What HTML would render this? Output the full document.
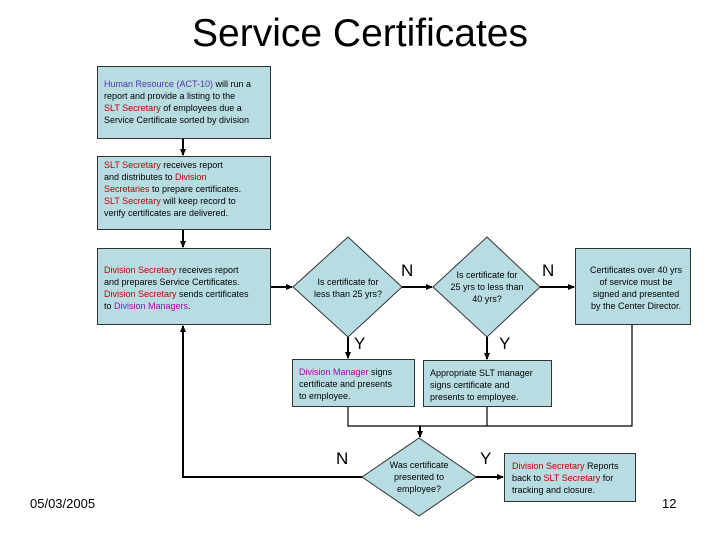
<!DOCTYPE html>
<html><head><style>
body{margin:0;width:720px;height:540px;background:#fff;position:relative;overflow:hidden;font-family:"Liberation Sans",sans-serif;}
.b{position:absolute;background:#b7dde3;border:1px solid #333;box-sizing:border-box;font-size:9px;line-height:12px;color:#000;white-space:nowrap;}
.r{color:#c00000}.p{color:#5533aa}.m{color:#b000b0}
.t{position:absolute;font-size:17px;}
.d{position:absolute;font-size:9px;line-height:12px;text-align:center;white-space:nowrap;}
</style></head><body>
<div style="position:absolute;left:0;width:720px;top:12px;text-align:center;font-size:39px;">Service Certificates</div>
<svg width="720" height="540" style="position:absolute;left:0;top:0">
<defs><marker id="a" markerUnits="userSpaceOnUse" markerWidth="7" markerHeight="7" refX="6" refY="3.5" orient="auto"><path d="M0,0.5L7,3.5L0,6.5z" fill="#000"/></marker></defs>
<g stroke="#000" stroke-width="2" fill="none">
<line x1="183" y1="139" x2="183" y2="155" marker-end="url(#a)"/>
<line x1="183" y1="230" x2="183" y2="247" marker-end="url(#a)"/>
<line x1="271" y1="287" x2="292" y2="287" marker-end="url(#a)"/>
<line x1="402" y1="287" x2="432" y2="287" marker-end="url(#a)"/>
<line x1="540" y1="287" x2="574" y2="287" marker-end="url(#a)"/>
<line x1="348" y1="337" x2="348" y2="358" marker-end="url(#a)"/>
<line x1="487" y1="337" x2="487" y2="359" marker-end="url(#a)"/>
<line x1="476" y1="477" x2="503" y2="477" marker-end="url(#a)"/>
<polyline points="362,477 183,477 183,326" marker-end="url(#a)"/>
</g>
<g stroke="#000" stroke-width="1.2" fill="none">
<polyline points="348,407 348,426 632,426 632,325"/>
<line x1="487" y1="407" x2="487" y2="426"/>
<line x1="420" y1="426" x2="420" y2="437" stroke-width="2" marker-end="url(#a)"/>
</g>
<g fill="#b7dde3" stroke="#333" stroke-width="1">
<polygon points="348,237 402,287 348,337 293,287"/>
<polygon points="487,237 540,287 487,337 433,287"/>
<polygon points="419,438 476,477 419,516 362,477"/>
</g>
</svg>
<div class="b" style="left:97px;top:66px;width:174px;height:73px;padding:11px 0 0 6px"><span class="p">Human Resource (ACT-10)</span> will run a<br>report and provide a listing to the<br><span class="r">SLT Secretary</span> of employees due a<br>Service Certificate sorted by division</div>
<div class="b" style="left:97px;top:156px;width:174px;height:74px;padding:2px 0 0 6px"><span class="r">SLT Secretary</span> receives report<br>and distributes to <span class="r">Division</span><br><span class="r">Secretaries</span> to prepare certificates.<br><span class="r">SLT Secretary</span> will keep record to<br>verify certificates are delivered.</div>
<div class="b" style="left:97px;top:248px;width:174px;height:77px;padding:15px 0 0 6px"><span class="r">Division Secretary</span> receives report<br>and prepares Service Certificates.<br><span class="r">Division Secretary</span> sends certificates<br>to <span class="m">Division Managers</span>.</div>
<div class="d" style="left:300px;top:276px;width:96px">Is certificate for<br>less than 25 yrs?</div>
<div class="d" style="left:440px;top:269px;width:94px">Is certificate for<br>25 yrs to less than<br>40 yrs?</div>
<div class="d" style="left:380px;top:459px;width:78px">Was certificate<br>presented to<br>employee?</div>
<div class="b" style="left:575px;top:248px;width:116px;height:77px;padding:15px 0 0 6px;text-align:center">Certificates over 40 yrs<br>of service must be<br>signed and presented<br>by the Center Director.</div>
<div class="b" style="left:292px;top:359px;width:123px;height:48px;padding:6px 0 0 6px"><span class="m">Division Manager</span> signs<br>certificate and presents<br>to employee.</div>
<div class="b" style="left:423px;top:360px;width:129px;height:47px;padding:6px 0 0 6px">Appropriate SLT manager<br>signs certificate and<br>presents to employee.</div>
<div class="b" style="left:504px;top:453px;width:132px;height:49px;padding:6px 0 0 7px"><span class="r">Division Secretary</span> Reports<br>back to <span class="r">SLT Secretary</span> for<br>tracking and closure.</div>
<div class="t" style="left:401px;top:261px">N</div>
<div class="t" style="left:542px;top:261px">N</div>
<div class="t" style="left:354px;top:334px">Y</div>
<div class="t" style="left:499px;top:334px">Y</div>
<div class="t" style="left:336px;top:449px">N</div>
<div class="t" style="left:480px;top:449px">Y</div>
<div style="position:absolute;left:30px;top:496px;font-size:13px">05/03/2005</div>
<div style="position:absolute;left:662px;top:496px;font-size:13px">12</div>
</body></html>
